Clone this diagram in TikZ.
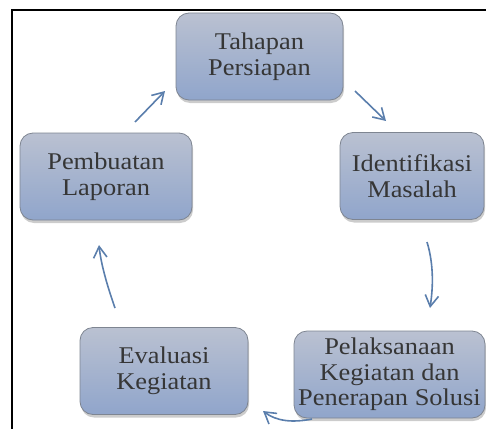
\documentclass[tikz,border=0pt]{standalone}
\usepackage{fontspec}
\setmainfont{Liberation Serif}[FakeStretch=1.1]
\usepackage{xcolor}
\usepackage{tikz}
\usetikzlibrary{arrows.meta,shadows}
\definecolor{boxtop}{HTML}{BAC1D1}
\definecolor{boxbottom}{HTML}{90A5CB}
\definecolor{boxline}{HTML}{7E8591}
\definecolor{flowcolor}{HTML}{5A7EAC}
\definecolor{textcolor}{HTML}{363636}

\begin{document}
\begin{tikzpicture}[x=1pt, y=-1pt,
  stage/.style={rectangle, rounded corners=13pt, draw=boxline, line width=0.8pt,
    top color=boxtop, bottom color=boxbottom, text=textcolor, align=center,
    minimum height=87pt, inner sep=0pt,
    font=\fontsize{24}{25.5}\selectfont,
    drop shadow={shadow xshift=1pt, shadow yshift=-3pt, opacity=0.4}},
  flow/.style={draw=flowcolor, line width=1.6pt, -{Straight Barb[angle=62:13pt]}}]
  \useasboundingbox (0,0) rectangle (486,428);
  % Frame
  \draw[line width=2pt] (12,430) -- (12,10) -- (488,10);
  % Nodes
  \node[stage, minimum width=167pt] (tahapan)      at (259.5,56.5) {Tahapan\\Persiapan};
  \node[stage, minimum width=144pt] (identifikasi) at (412,176)    {Identifikasi\\Masalah};
  \node[stage, minimum width=191pt] (pelaksanaan)  at (389.5,374.5){Pelaksanaan\\Kegiatan dan\\Penerapan Solusi};
  \node[stage, minimum width=168pt] (evaluasi)     at (164,371)    {Evaluasi\\Kegiatan};
  \node[stage, minimum width=172pt] (pembuatan)    at (106,176.5)  {Pembuatan\\Laporan};
  % Arrow ends
  \coordinate (p1) at (135,122);  \coordinate (t1) at (165,91);
  \coordinate (t2) at (355,91);   \coordinate (i1) at (386,121);
  \coordinate (i2) at (427,242);  \coordinate (k1) at (430,308);
  \coordinate (k2) at (312,419);  \coordinate (e1) at (263,411);
  \coordinate (e2) at (115,308);  \coordinate (p2) at (99,245);
  % Arrows
  \draw[flow] (p1) -- (t1);
  \draw[flow] (t2) -- (i1);
  \draw[flow] (i2) .. controls (434,265) and (433,288) .. (k1);
  \draw[flow] (k2) .. controls (292,423) and (276,421) .. (e1);
  \draw[flow] (e2) .. controls (108,288) and (101,265) .. (p2);
\end{tikzpicture}
\end{document}
